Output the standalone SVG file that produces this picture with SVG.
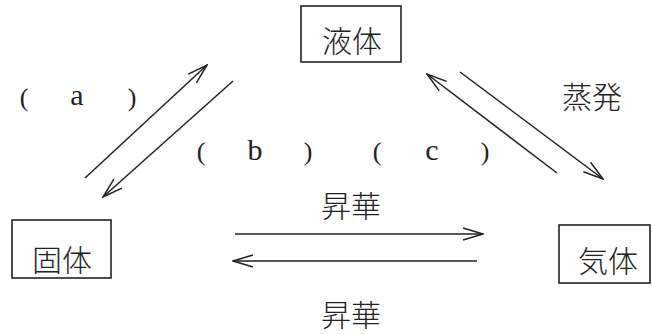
<svg xmlns="http://www.w3.org/2000/svg" width="652" height="334" viewBox="0 0 652 334">
<style>
.box{fill:#fff;stroke:#222;stroke-width:1.6}
.jp{font-family:"Noto Sans CJK JP","Noto Sans CJK SC",sans-serif;font-size:30px;fill:#222;text-anchor:middle;font-weight:300}
.lt{font-family:"Liberation Serif",serif;font-size:30px;fill:#222;text-anchor:middle}
.pr{font-family:"Liberation Serif",serif;font-size:26px;fill:#222;text-anchor:middle}
.ar{stroke:#222;stroke-width:1.5;fill:none;marker-end:url(#h)}
</style>
<defs>
<marker id="h" viewBox="0 0 22 14" refX="21" refY="7" markerWidth="22" markerHeight="14" markerUnits="userSpaceOnUse" orient="auto">
<path d="M1,1 L21,7 L1,13" fill="none" stroke="#222" stroke-width="1.5"/>
</marker>
</defs>
<rect width="652" height="334" fill="#fff"/>
<g id="liquid">
<rect class="box" x="301" y="6" width="100" height="56"/>
<text class="jp" x="352" y="52">液体</text>
</g>
<g id="solid">
<rect class="box" x="12" y="220" width="99" height="58"/>
<text class="jp" x="62" y="271">固体</text>
</g>
<g id="gas">
<rect class="box" x="559" y="225" width="91" height="58"/>
<text class="jp" x="608" y="272">気体</text>
</g>
<g id="connectors">
<line class="ar" x1="85" y1="178" x2="207" y2="65"/>
<line class="ar" x1="233" y1="81" x2="103" y2="197"/>
<line class="ar" x1="557" y1="173" x2="427" y2="74"/>
<line class="ar" x1="460" y1="72" x2="603" y2="179"/>
<line class="ar" x1="235" y1="234" x2="483" y2="234"/>
<line class="ar" x1="477" y1="261" x2="233" y2="261"/>
</g>
<g id="labels">
<text class="pr" x="24" y="106">(</text>
<text class="lt" x="77" y="105">a</text>
<text class="pr" x="132" y="106">)</text>
<text class="pr" x="201" y="160">(</text>
<text class="lt" x="255" y="160">b</text>
<text class="pr" x="308" y="160">)</text>
<text class="pr" x="377" y="160">(</text>
<text class="lt" x="432" y="160">c</text>
<text class="pr" x="485" y="160">)</text>
<text class="jp" x="592" y="108">蒸発</text>
<text class="jp" x="351" y="217">昇華</text>
<text class="jp" x="351" y="326">昇華</text>
</g>
</svg>
